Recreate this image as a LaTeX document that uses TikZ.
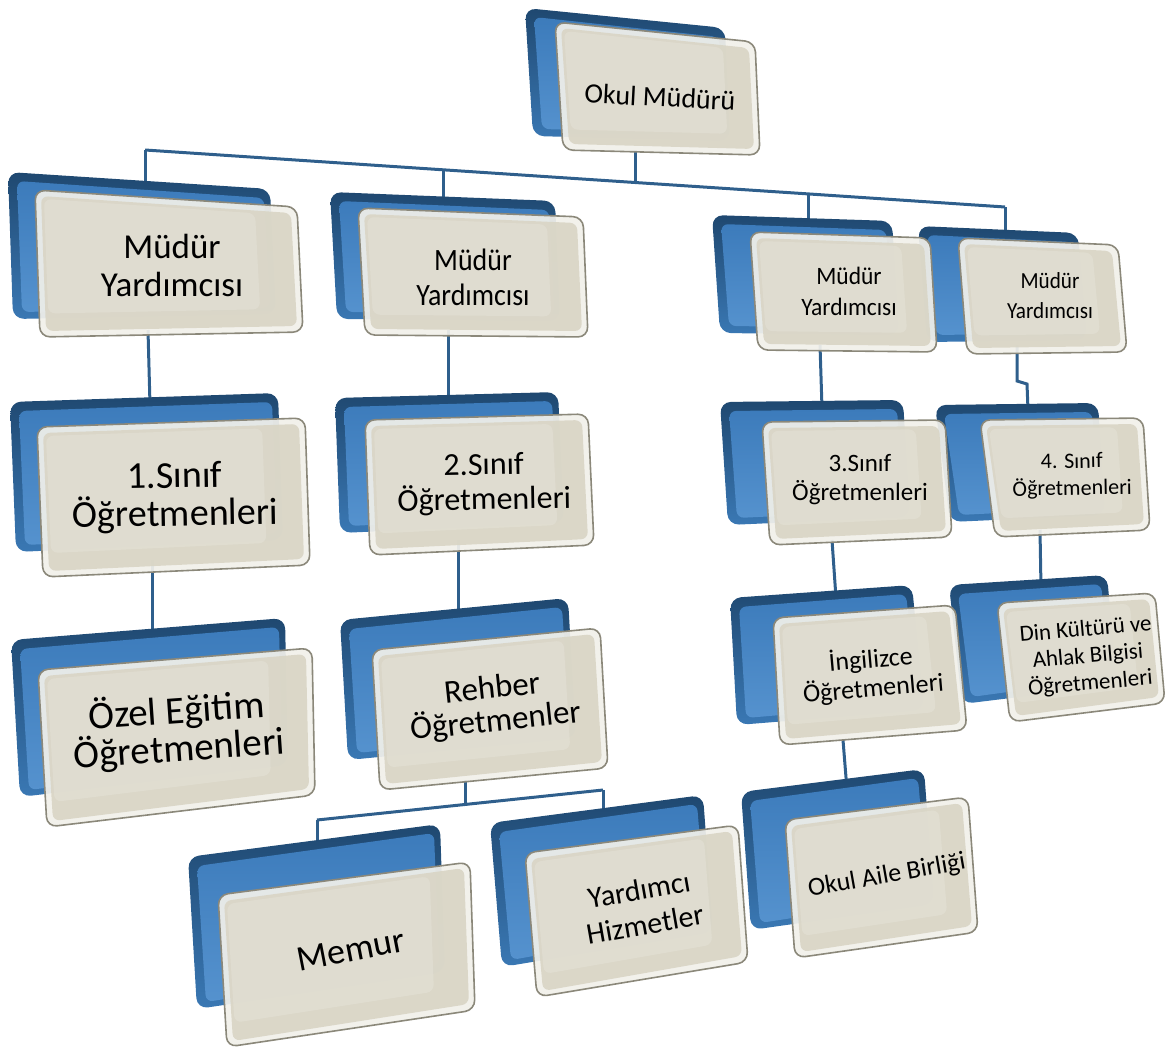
\documentclass[tikz,border=0pt]{standalone}
\usepackage{fontspec}
\setmainfont{Carlito}
\usetikzlibrary{calc}
\definecolor{conn}{HTML}{2F5F8C}
\definecolor{backtop}{HTML}{1F4870}
\definecolor{backbot}{HTML}{3A78B4}
\definecolor{bluetop}{HTML}{3C7BBB}
\definecolor{bluebot}{HTML}{5592CE}
\definecolor{frontrim}{HTML}{F1F0EA}
\definecolor{frontedge}{HTML}{8B887A}
\definecolor{frontfill}{HTML}{D9D5C5}
\tikzset{
  conn/.style={draw=conn, line width=3pt, line join=miter},
  lbl/.style={align=center, text=black, inner sep=0pt},
}
% #1 id, #2 TL, #3 TR, #4 BR, #5 BL (front panel), #6 dx, #7 dy (shift of back panel)
\newcommand\orgbox[7]{%
  \coordinate (#1tl) at (#2); \coordinate (#1tr) at (#3);
  \coordinate (#1br) at (#4); \coordinate (#1bl) at (#5);
  \coordinate (#1btl) at ($(#1tl)+(#6,#7)$); \coordinate (#1btr) at ($(#1tr)+(#6,#7)$);
  \coordinate (#1bbr) at ($(#1br)+(#6,#7)$); \coordinate (#1bbl) at ($(#1bl)+(#6,#7)$);
  \shade[top color=backtop, bottom color=backbot, rounded corners=11pt]
    (#1btl) -- (#1btr) -- (#1bbr) -- (#1bbl) -- cycle;
  \shade[top color=bluetop, bottom color=bluebot, rounded corners=7pt]
    ($(#1btl)+(9,9)$) -- ($(#1btr)+(-6,9)$) -- ($(#1bbr)+(-6,-7)$) -- ($(#1bbl)+(9,-7)$) -- cycle;
  \fill[frontrim, fill opacity=.93, draw=frontedge, line width=1.6pt, rounded corners=10pt]
    (#1tl) -- (#1tr) -- (#1br) -- (#1bl) -- cycle;
  \fill[frontfill, fill opacity=.9, rounded corners=7pt]
    ($(#1tl)+(6,6)$) -- ($(#1tr)+(-6,6)$) -- ($(#1br)+(-6,-6)$) -- ($(#1bl)+(6,-6)$) -- cycle;
  \fill[white, fill opacity=.16, rounded corners=7pt]
    ($(#1tl)+(9,9)$) -- ($($(#1tl)!.84!(#1tr)$)+(0,9)$) -- ($(#1tl)!.84!(#1br)$) -- ($($(#1tl)!.84!(#1bl)$)+(9,0)$) -- cycle;
}
\begin{document}
\begin{tikzpicture}[x=1pt,y=-1pt]
\useasboundingbox (0,0) rectangle (1170,1054);
% ---- connector coordinates
\coordinate (k0a) at (635,150); \coordinate (k0b) at (635,182.5);
\coordinate (busL) at (145,150); \coordinate (busA) at (443,169.8);
\coordinate (busB) at (808,193.9); \coordinate (busR) at (1005,207);
\coordinate (d1) at (145,182); \coordinate (d2) at (443,198);
\coordinate (d3) at (808,222); \coordinate (d4) at (1005,232);
\coordinate (k1a) at (148,330); \coordinate (k1b) at (150,405);
\coordinate (k5a) at (152,560); \coordinate (k5b) at (152,632);
\coordinate (k2a) at (448,330); \coordinate (k2b) at (448,402);
\coordinate (k6a) at (458,540); \coordinate (k6b) at (458,618);
\coordinate (k10a) at (465,780); \coordinate (k10b) at (465,804.5);
\coordinate (bus2L) at (317,820); \coordinate (bus2R) at (603,790);
\coordinate (d13) at (317,850); \coordinate (d14) at (603,815);
\coordinate (k3a) at (820,345); \coordinate (k3b) at (822,408);
\coordinate (k4a) at (1017,345); \coordinate (k4j1) at (1017,381);
\coordinate (k4j2) at (1027,384); \coordinate (k4b) at (1028,410);
\coordinate (k7a) at (832,540); \coordinate (k7b) at (836,598);
\coordinate (k8a) at (1040,530); \coordinate (k8b) at (1041,588);
\coordinate (k11a) at (843,740); \coordinate (k11b) at (847,790);
% ---- connectors
\draw[conn] (k0a) -- (k0b);
\draw[conn] (busL) -- (busA) -- (k0b) -- (busB) -- (busR);
\draw[conn] (busL) -- (d1); \draw[conn] (busA) -- (d2);
\draw[conn] (busB) -- (d3); \draw[conn] (busR) -- (d4);
\draw[conn] (k1a) -- (k1b); \draw[conn] (k5a) -- (k5b);
\draw[conn] (k2a) -- (k2b); \draw[conn] (k6a) -- (k6b);
\draw[conn] (k10a) -- (k10b);
\draw[conn] (bus2L) -- (bus2R);
\draw[conn] (bus2L) -- (d13); \draw[conn] (bus2R) -- (d14);
\draw[conn] (k3a) -- (k3b);
\draw[conn] (k4a) -- (k4j1) -- (k4j2) -- (k4b);
\draw[conn] (k7a) -- (k7b); \draw[conn] (k8a) -- (k8b);
\draw[conn] (k11a) -- (k11b);
% ---- boxes
\orgbox{b0}{555,22}{755,42}{760,155}{563,150}{-30}{-14}
\orgbox{b4}{958,238}{1118,245}{1127,352}{967,354}{-40}{-12}
\orgbox{b3}{750,232}{930,238}{937,352}{758,350}{-38}{-17}
\orgbox{b2}{358,208}{583,217}{588,337}{365,335}{-28}{-16}
\orgbox{b1}{35,190}{297,207}{303,332}{40,337}{-27}{-18}
\orgbox{b8}{980,420}{1143,418}{1150,530}{995,537}{-45}{-15}
\orgbox{b7}{762,422}{945,420}{952,537}{770,545}{-42}{-20}
\orgbox{b6}{365,420}{588,414}{594,545}{370,555}{-30}{-22}
\orgbox{b5}{37,427}{305,418}{310,565}{43,577}{-27}{-25}
\orgbox{b12}{997,603}{1155,593}{1165,703}{1010,722}{-48}{-18}
\orgbox{b11}{773,618}{955,605}{967,730}{780,745}{-43}{-20}
\orgbox{b10}{372,650}{600,628}{608,768}{380,790}{-32}{-30}
\orgbox{b9}{38,670}{312,648}{315,795}{47,827}{-27}{-30}
\orgbox{b15}{785,820}{968,797}{978,932}{795,958}{-44}{-28}
\orgbox{b14}{525,853}{738,825}{748,962}{537,997}{-35}{-30}
\orgbox{b13}{218,895}{470,862}{475,1010}{227,1047}{-30}{-38}
% ---- labels
\node[lbl, font=\fontsize{28}{30}\selectfont, rotate=-3] (t0) at (660,97) {Okul Müdürü};
\node[lbl, font=\fontsize{35}{38}\selectfont] (t1) at (172,265) {Müdür\\Yardımcısı};
\node[lbl, font=\fontsize{31}{35}\selectfont, xscale=.9] (t2) at (473,277) {Müdür\\Yardımcısı};
\node[lbl, font=\fontsize{25}{31}\selectfont, xscale=.94] (t3) at (849,291) {Müdür\\Yardımcısı};
\node[lbl, font=\fontsize{23}{30}\selectfont, xscale=.92] (t4) at (1050,296) {Müdür\\Yardımcısı};
\node[lbl, font=\fontsize{38}{38}\selectfont, rotate=1] (t5) at (175,497) {1.Sınıf\\Öğretmenleri};
\node[lbl, font=\fontsize{32}{35}\selectfont, rotate=1] (t6) at (484,484) {2.Sınıf\\Öğretmenleri};
\node[lbl, font=\fontsize{25}{29}\selectfont] (t7) at (860,480) {3.Sınıf\\Öğretmenleri};
\node[lbl, font=\fontsize{22}{27}\selectfont, rotate=1] (t8) at (1072,476) {4. Sınıf\\Öğretmenleri};
\node[lbl, font=\fontsize{39}{38}\selectfont, rotate=4] (t9) at (178,730) {Özel Eğitim\\Öğretmenleri};
\node[lbl, font=\fontsize{33}{33}\selectfont, rotate=6] (t10) at (494,706) {Rehber\\Öğretmenler};
\node[lbl, font=\fontsize{26}{29}\selectfont, rotate=5] (t11) at (872,674) {İngilizce\\Öğretmenleri};
\node[lbl, font=\fontsize{23}{27}\selectfont, rotate=5] (t12) at (1088,657) {Din Kültürü ve\\Ahlak Bilgisi\\Öğretmenleri};
\node[lbl, font=\fontsize{26}{30}\selectfont, rotate=10] (t15) at (887,876) {Okul Aile Birliği};
\node[lbl, font=\fontsize{30}{35}\selectfont, rotate=10] (t14) at (642,907) {Yardımcı\\Hizmetler};
\node[lbl, font=\fontsize{36}{40}\selectfont, rotate=11] (t13) at (351,950) {Memur};
\end{tikzpicture}
\end{document}
